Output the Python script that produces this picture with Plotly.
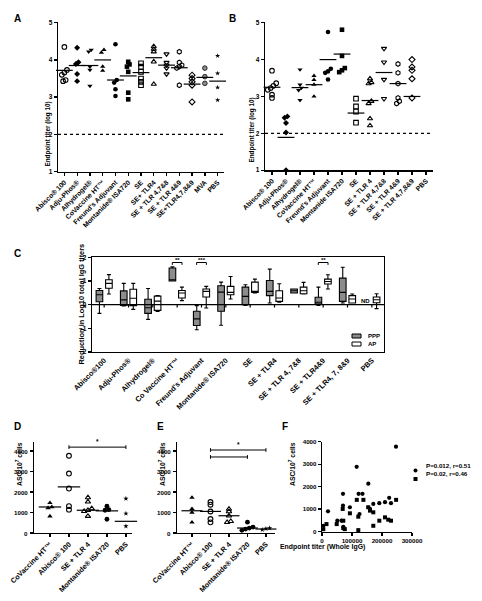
import plotly.graph_objects as go

W, H = 482, 601
FONT = "Liberation Sans"

# ---------------- Panel A data ----------------
a_labels = ["Abisco® 100", "Adju-Phos®", "Alhydrogel®", "CoVaccine HT™", "Freund's Adjuvant",
            "Montanide® ISA720", "SE", "SE+ TLR4", "SE + TLR 4,7&8", "SE + TLR 4&9",
            "SE+TLR4,7,8&9", "MVA", "PBS"]
a_values = [
    [4.35, 3.73, 3.66, 3.60, 3.46, 3.43],
    [4.33, 3.94, 3.89, 3.62, 3.43],
    [4.27, 4.22, 3.82, 3.73, 3.30],
    [4.27, 4.20, 3.82, 3.71],
    [4.42, 3.46, 3.39, 3.21, 3.03],
    [3.95, 3.88, 3.82, 3.68, 3.12, 2.94],
    [3.91, 3.82, 3.68, 3.50, 3.41, 3.32],
    [4.36, 4.29, 4.22, 3.95, 3.35],
    [4.16, 3.93, 3.86, 3.78, 3.62],
    [4.22, 3.93, 3.86, 3.82, 3.78, 3.32],
    [3.59, 3.50, 3.41, 3.32, 2.87],
    [3.78, 3.55, 3.37],
    [4.11, 3.64, 3.26, 2.92],
]
a_means = [3.72, 3.85, 3.85, 4.00, 3.46, 3.57, 3.66, 4.06, 3.86, 3.79, 3.35, 3.53, 3.43]
a_symbols = ["circle-open", "diamond", "triangle-down", "triangle-up", "circle", "square",
             "square-open", "triangle-up-open", "triangle-down-open", "hexagon-open",
             "diamond-open", "circle", "star"]

# ---------------- Panel B data ----------------
b_labels = ["Abisco® 100", "Adju-Phos®", "Alhydrogel®", "CoVaccine HT™", "Freund's Adjuvant",
            "Montanide ISA720", "SE", "SE + TLR 4", "SE + TLR 4,7&8", "SE + TLR 4&9",
            "SE + TLR 4,7,8&9", "PBS"]
b_values = [
    [3.70, 3.36, 3.29, 3.23, 3.18, 3.05, 2.96],
    [2.46, 2.42, 2.28, 2.02, 1.00],
    [3.73, 3.32, 3.23, 3.17, 2.90],
    [3.56, 3.45, 3.32, 3.00],
    [4.75, 3.75, 3.68, 3.64, 3.46],
    [4.81, 4.10, 3.77, 3.71, 3.66],
    [2.94, 2.73, 2.59, 2.29],
    [3.48, 3.38, 3.35, 2.87, 2.81, 2.40, 2.21],
    [4.30, 3.93, 3.46, 2.94],
    [3.88, 3.64, 3.35, 2.96, 2.87, 2.81],
    [4.00, 3.80, 3.71, 3.48, 2.96],
    [],
]
b_means = [3.25, 1.89, 3.24, 3.32, 4.00, 4.15, 2.55, 2.89, 3.65, 3.35, 3.00, None]
b_symbols = ["circle-open", "diamond", "triangle-down", "triangle-up", "circle", "square",
             "square-open", "triangle-up-open", "triangle-down-open", "hexagon-open",
             "diamond-open", "star"]

# ---------------- Panel C data ----------------
c_labels = ["Abisco®100", "Adju-Phos®", "Alhydrogel®", "Co Vaccine HT™", "Freund's Adjuvant",
            "Montanide® ISA720", "SE", "SE + TLR4", "SE + TLR 4, 7&8", "SE + TLR4&9",
            "SE + TLR4, 7, 8&9", "PBS"]
ppp_low = [-0.37, -0.05, -0.62, 1.00, -1.06, -0.87, -0.03, 0.07, 0.49, -0.03, 0.07]
ppp_q1 = [0.12, -0.03, -0.37, 1.00, -0.88, -0.28, 0.00, 0.38, 0.49, 0.03, 0.14]
ppp_med = [0.42, 0.20, -0.13, 1.05, -0.60, 0.53, 0.35, 0.56, 0.59, 0.10, 0.52]
ppp_q3 = [0.60, 0.58, 0.23, 1.55, -0.28, 0.80, 0.74, 1.02, 0.66, 0.31, 1.12]
ppp_high = [0.68, 0.90, 0.68, 1.60, -0.04, 0.95, 0.84, 1.50, 0.66, 0.74, 1.58]
ap_low = [0.45, -0.20, -0.29, 0.17, -0.14, 0.24, 0.49, 0.10, 0.45, 0.66, 0.07, -0.17]
ap_q1 = [0.69, -0.04, -0.24, 0.28, 0.32, 0.42, 0.52, 0.14, 0.46, 0.87, 0.07, 0.08]
ap_med = [0.90, 0.27, 0.15, 0.49, 0.56, 0.52, 0.56, 0.28, 0.59, 0.98, 0.24, 0.21]
ap_q3 = [1.05, 0.65, 0.36, 0.60, 0.66, 0.77, 0.95, 0.59, 0.74, 1.08, 0.38, 0.32]
ap_high = [1.27, 0.90, 0.38, 0.74, 0.77, 1.19, 1.08, 0.88, 0.94, 1.26, 0.45, 0.46]
c_sig_cats = [3, 4, 9]
c_sig_text = ["**", "***", "**"]

# ---------------- Panel D / E data ----------------
de_labels = ["CoVaccine HT™", "Abisco® 100", "SE + TLR 4", "Montanide® ISA720", "PBS"]
de_symbols = ["triangle-up", "circle-open", "triangle-up-open", "circle", "star"]
d_values = [
    [1470, 1270, 1220, 820],
    [3770, 2900, 2170, 1310, 1140],
    [1730, 1520, 1190, 1110, 1060, 820],
    [1310, 1140, 1110, 670],
    [1680, 950, 330],
]
d_means = [1270, 2250, 1110, 1080, 570]
e_values = [
    [1730, 1180, 1000, 520],
    [1510, 1380, 1050, 680, 520],
    [1170, 1050, 840, 570, 520],
    [530, 290, 240, 190, 130],
    [240, 210, 160],
]
e_means = [1085, 1053, 842, 243, 194]
asc_ticks = [0, 1000, 2000, 3000, 4000]

# ---------------- Panel F data ----------------
f_circ_x = [246600, 115600, 154400, 70000, 122000, 135000, 224000, 210000, 191000, 230000,
            171000, 70000, 93000, 160000, 20000, 125000, 65000, 51000, 4400, 71000]
f_circ_y = [3780, 2880, 2130, 1680, 1680, 1680, 1500, 1305, 1260, 1260,
            1230, 1155, 1080, 1005, 900, 780, 480, 480, 255, 210]
f_sq_x = [116000, 138000, 247000, 69000, 154000, 160000, 171000, 93000, 121000, 210000,
          221000, 230000, 191000, 171000, 71000, 15000, 4400, 71000, 76000, 121000, 49000]
f_sq_y = [1410, 1410, 1410, 1005, 1080, 930, 855, 810, 660, 630,
          525, 480, 480, 255, 480, 330, 105, 150, 105, 60, 330]
f_xticks = [0, 100000, 200000, 300000]
f_legend = ["P=0.012, r=0.51", "P=0.02, r=0.46"]


# ---------------- helpers ----------------
def px_x(p):
    return p / W


def px_y(p):
    return 1 - p / H


def swarm(vals, thr, step):
    offs = [0.0] * len(vals)
    if not vals:
        return offs
    order = sorted(range(len(vals)), key=lambda i: vals[i])
    clusters, cur = [], [order[0]]
    for i in order[1:]:
        if abs(vals[i] - vals[cur[-1]]) < thr:
            cur.append(i)
        else:
            clusters.append(cur)
            cur = [i]
    clusters.append(cur)
    for c in clusters:
        n = len(c)
        for k, i in enumerate(c):
            offs[i] = (k - (n - 1) / 2) * step
    return offs


def tfont(size):
    return dict(family=FONT, size=size, color="black", weight="bold")


def axis(**kw):
    d = dict(showline=True, linecolor="black", linewidth=1.3, ticks="outside", ticklen=3,
             tickwidth=1.3, tickcolor="black", showgrid=False, zeroline=False,
             showticklabels=True, ticklabeloverflow="allow", automargin=False,
             tickfont=tfont(6.5))
    d.update(kw)
    return d


fig = go.Figure()


def dot_panel(xa, ya, values, means, symbols, thr, step, msize, mean_len, gray_idx=None):
    for i, vals in enumerate(values):
        if vals:
            offs = swarm(vals, thr, step)
            sym = symbols[i]
            is_open = sym.endswith("-open")
            size = msize - 0.8 if sym == "star" else msize
            color = "#8f8f8f" if i == gray_idx else "black"
            lw = 1.1 if is_open else (0.8 if i == gray_idx else 0)
            fig.add_trace(go.Scatter(
                x=[i + o for o in offs], y=vals, mode="markers", xaxis=xa, yaxis=ya,
                marker=dict(symbol=sym, size=size, color=color,
                            line=dict(color="black", width=lw)),
                showlegend=False, hoverinfo="skip", cliponaxis=False))
        if means[i] is not None:
            fig.add_trace(go.Scatter(
                x=[i], y=[means[i]], mode="markers", xaxis=xa, yaxis=ya,
                marker=dict(symbol="line-ew", size=mean_len, color="black",
                            line=dict(color="black", width=1.2)),
                showlegend=False, hoverinfo="skip", cliponaxis=False))


# Panel A
dot_panel("x", "y", a_values, a_means, a_symbols, 0.07, 0.2, 4.6, 12, gray_idx=11)
# Panel B
dot_panel("x2", "y2", b_values, b_means, b_symbols, 0.07, 0.2, 4.6, 12)

# Panel C boxes
fig.add_trace(go.Box(
    x=list(range(len(ppp_med))), q1=ppp_q1, median=ppp_med, q3=ppp_q3,
    lowerfence=ppp_low, upperfence=ppp_high, xaxis="x3", yaxis="y3", name="PPP",
    fillcolor="#8c8c8c", line=dict(color="black", width=1.1), whiskerwidth=0.6,
    offsetgroup="PPP", showlegend=False, hoverinfo="skip"))
fig.add_trace(go.Box(
    x=list(range(len(ap_med))), q1=ap_q1, median=ap_med, q3=ap_q3,
    lowerfence=ap_low, upperfence=ap_high, xaxis="x3", yaxis="y3", name="AP",
    fillcolor="white", line=dict(color="black", width=1.1), whiskerwidth=0.6,
    offsetgroup="AP", showlegend=False, hoverinfo="skip"))

# Panel D, E
dot_panel("x4", "y4", d_values, d_means, de_symbols, 120, 0.2, 4.8, 16)
dot_panel("x5", "y5", e_values, e_means, de_symbols, 70, 0.2, 4.8, 15)

# Panel F
fig.add_trace(go.Scatter(x=f_circ_x, y=f_circ_y, mode="markers", xaxis="x6", yaxis="y6",
                         marker=dict(symbol="circle", size=4.2, color="black"),
                         showlegend=False, hoverinfo="skip", cliponaxis=False))
fig.add_trace(go.Scatter(x=f_sq_x, y=f_sq_y, mode="markers", xaxis="x6", yaxis="y6",
                         marker=dict(symbol="square", size=4, color="black"),
                         showlegend=False, hoverinfo="skip", cliponaxis=False))

# ---------------- axes ----------------
lay = dict(
    width=W, height=H, margin=dict(l=0, r=0, t=0, b=0, autoexpand=False),
    paper_bgcolor="white", plot_bgcolor="white", showlegend=False,
    boxmode="group", boxgap=0.22, boxgroupgap=0.3, hovermode=False,
    font=dict(family=FONT, color="black"),
)
# A
lay["xaxis"] = axis(domain=[px_x(58), px_x(224)], range=[-0.5, len(a_labels) - 0.5],
                    tickvals=list(range(len(a_labels))), ticktext=a_labels, tickangle=-45,
                    tickfont=tfont(6.8), anchor="y")
lay["yaxis"] = axis(domain=[px_y(171.5), px_y(22)], range=[1, 5.02], tickvals=[1, 2, 3, 4, 5],
                    anchor="x")
# B
lay["xaxis2"] = axis(domain=[px_x(265), px_x(433)], range=[-0.5, len(b_labels) - 0.5],
                     tickvals=list(range(len(b_labels))), ticktext=b_labels, tickangle=-45,
                     tickfont=tfont(6.8), anchor="y2")
lay["yaxis2"] = axis(domain=[px_y(170.2), px_y(22)], range=[1, 5.02], tickvals=[1, 2, 3, 4, 5],
                     anchor="x2")
# C
lay["xaxis3"] = axis(domain=[px_x(92), px_x(384)], range=[-0.5, len(c_labels) - 0.5],
                     tickvals=list(range(len(c_labels))), ticktext=c_labels, tickangle=-45,
                     tickfont=tfont(7.4), ticks="", mirror=True, anchor="y3")
lay["yaxis3"] = axis(domain=[px_y(352), px_y(257.3)], range=[-2, 2], tickvals=[-2, -1, 0, 1, 2],
                     mirror=True, anchor="x3")
# D
lay["xaxis4"] = axis(domain=[px_x(34), px_x(132)], range=[-0.84, 4.32],
                     tickvals=[0, 1, 2, 3, 4], ticktext=de_labels, tickangle=-45,
                     tickfont=tfont(7.2), anchor="y4")
lay["yaxis4"] = axis(domain=[px_y(533), px_y(441.8)], range=[0, 4450],
                     tickmode="array", tickvals=asc_ticks, showticklabels=False, anchor="x4")
# E
lay["xaxis5"] = axis(domain=[px_x(177), px_x(275)], range=[-0.81, 4.49],
                     tickvals=[0, 1, 2, 3, 4], ticktext=de_labels, tickangle=-45,
                     tickfont=tfont(7.2), anchor="y5")
lay["yaxis5"] = axis(domain=[px_y(533), px_y(441.8)], range=[0, 4450],
                     tickmode="array", tickvals=asc_ticks, showticklabels=False, anchor="x5")
# F
lay["xaxis6"] = axis(domain=[px_x(322), px_x(412)], range=[0, 300000],
                     tickmode="array", tickvals=f_xticks, ticktext=[str(v) for v in f_xticks],
                     tickfont=tfont(6.2), anchor="y6")
lay["yaxis6"] = axis(domain=[px_y(531.5), px_y(441.7)], range=[0, 4000],
                     tickmode="array", tickvals=asc_ticks, ticktext=[str(v) for v in asc_ticks],
                     tickfont=tfont(6.2), anchor="x6")
fig.update_layout(**lay)

shapes = []
annots = []

# y tick labels of D and E as text next to their axes
for xa, ya in (("x4", "y4"), ("x5", "y5")):
    for v in asc_ticks:
        annots.append(dict(x=0, y=v, xref=f"{xa} domain", yref=ya, text=str(v),
                           showarrow=False, xanchor="right", xshift=-4, font=tfont(6.2)))

# dotted detection limit lines
for xa, ya in (("x", "y"), ("x2", "y2")):
    shapes.append(dict(type="line", xref=f"{xa} domain", yref=ya, x0=0, x1=1, y0=2, y1=2,
                       line=dict(color="black", width=1.2, dash="dot")))

# panel C zero line and ticks
shapes.append(dict(type="line", xref="x3 domain", yref="y3", x0=0, x1=1, y0=0, y1=0,
                   line=dict(color="black", width=1.2)))
for i in range(len(c_labels)):
    shapes.append(dict(type="line", xref="x3", yref="y3", x0=i, x1=i, y0=0, y1=-0.12,
                       line=dict(color="black", width=1.2)))
# significance brackets C
for cat, txt in zip(c_sig_cats, c_sig_text):
    y0 = 1.78
    shapes.append(dict(type="line", xref="x3", yref="y3", x0=cat - 0.2, x1=cat + 0.2, y0=y0, y1=y0,
                       line=dict(color="black", width=1)))
    for xe in (cat - 0.2, cat + 0.2):
        shapes.append(dict(type="line", xref="x3", yref="y3", x0=xe, x1=xe, y0=y0, y1=y0 - 0.1,
                           line=dict(color="black", width=1)))
    annots.append(dict(x=cat, y=y0, xref="x3", yref="y3", text=txt, showarrow=False,
                       yanchor="bottom", font=tfont(6), yshift=-2))
annots.append(dict(x=len(c_labels) - 1 - 0.28, y=0.17, xref="x3", yref="y3", text="ND",
                   showarrow=False, font=tfont(6)))

# legend C
for k, (lab, col) in enumerate((("PPP", "#8c8c8c"), ("AP", "white"))):
    yc = 336 + k * 8
    shapes.append(dict(type="rect", xref="paper", yref="paper", x0=px_x(352), x1=px_x(361),
                       y0=px_y(yc + 2), y1=px_y(yc - 2), fillcolor=col,
                       line=dict(color="black", width=1)))
    annots.append(dict(x=px_x(366), y=px_y(yc), xref="paper", yref="paper", text=lab,
                       showarrow=False, xanchor="left", font=tfont(6)))


# D/E brackets
def bracket(xa, ya, c0, c1, yv, cap):
    shapes.append(dict(type="line", xref=xa, yref=ya, x0=c0, x1=c1, y0=yv, y1=yv,
                       line=dict(color="black", width=1)))
    for xe in (c0, c1):
        shapes.append(dict(type="line", xref=xa, yref=ya, x0=xe, x1=xe, y0=yv - cap, y1=yv + cap,
                           line=dict(color="black", width=1)))


bracket("x4", "y4", 1, 4, 4190, 90)
annots.append(dict(x=2.5, y=4190, xref="x4", yref="y4", text="*", showarrow=False,
                   yanchor="bottom", font=tfont(6.5)))
bracket("x5", "y5", 1, 4, 4050, 90)
bracket("x5", "y5", 1, 3, 3710, 90)
annots.append(dict(x=2.5, y=4050, xref="x5", yref="y5", text="*", showarrow=False,
                   yanchor="bottom", font=tfont(6.5)))

# legend F
for k, (lab, sym) in enumerate(zip(f_legend, ("circle", "rect"))):
    yc = 470.5 + k * 8.5
    shapes.append(dict(type=sym, xref="paper", yref="paper", x0=px_x(413.5), x1=px_x(417.5),
                       y0=px_y(yc + 2), y1=px_y(yc - 2), fillcolor="black",
                       line=dict(color="black", width=0)))
    annots.append(dict(x=px_x(424), y=px_y(yc), xref="paper", yref="paper", text=lab,
                       showarrow=False, xanchor="left", font=tfont(6.2)))


# axis titles
def vtitle(text, xp, yp, size):
    annots.append(dict(x=px_x(xp), y=px_y(yp), xref="paper", yref="paper", text=text,
                       textangle=-90, showarrow=False, font=tfont(size)))


vtitle("Endpoint titer (log 10)", 42, 100, 6.3)
vtitle("Endpoint titer (log 10)", 251, 96, 6.3)
vtitle("Reduction in Log10 total IgG titers", 74, 304, 7.4)
vtitle("ASC/10<sup>7</sup> cells", 13, 488, 6.8)
vtitle("ASC/10<sup>7</sup> cells", 156, 488, 6.8)
vtitle("ASC/10<sup>7</sup> cells", 292, 488, 6.8)
annots.append(dict(x=px_x(367), y=px_y(553), xref="paper", yref="paper",
                   text="Endpoint titer (Whole IgG)", showarrow=False, font=tfont(6.9)))

# panel letters
for lt, xp, yp in (("A", 12, 11), ("B", 232, 11), ("C", 12, 253), ("D", 12, 434),
                   ("E", 155, 434), ("F", 285, 434)):
    annots.append(dict(x=px_x(xp), y=px_y(yp), xref="paper", yref="paper", text=lt,
                       showarrow=False, font=tfont(10)))

fig.update_layout(shapes=shapes, annotations=annots)
fig.write_html("out.html", config={"displayModeBar": False, "staticPlot": True},
               post_script="document.body.style.margin='0px';document.body.style.overflow='hidden';")
